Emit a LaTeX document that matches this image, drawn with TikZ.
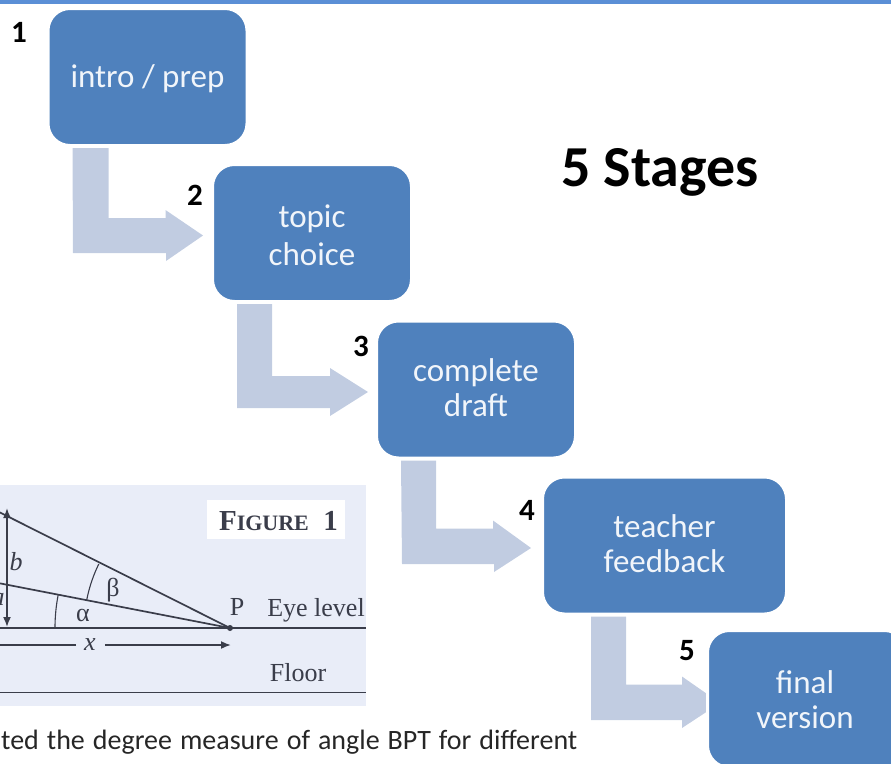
\documentclass[tikz,border=0pt]{standalone}
\usepackage{fontspec}
\setmainfont{Carlito}
\newfontfamily\figfont{Liberation Serif}
\usetikzlibrary{arrows.meta}
\definecolor{stageblue}{HTML}{4F81BD}
\definecolor{stagearrowc}{HTML}{C1CCE1}
\definecolor{topbar}{HTML}{5B8FD6}
\definecolor{panelc}{HTML}{E9EDF8}
\definecolor{figink}{HTML}{3A3D4A}
\tikzset{
	stagebox/.style={rectangle,rounded corners=22pt,fill=stageblue,draw=white,line width=3pt,outer sep=0pt,
		minimum width=199pt,minimum height=137pt,text=white!92!stageblue,align=center,inner sep=0pt,
		font=\fontsize{33}{35}\selectfont},
	stagenum/.style={font=\bfseries\fontsize{31}{31}\selectfont,inner sep=0pt},
	stagearrow/.style={fill=stagearrowc},
	figlabel/.style={text=figink,inner sep=0pt,font=\figfont\fontsize{26}{26}\selectfont},
	figline/.style={draw=figink,line width=1.7pt},
	figarrow/.style={figline,-{Latex[length=10pt,width=8pt]}}
}
\begin{document}
\begin{tikzpicture}[x=1pt,y=-1pt]
	\useasboundingbox (0,0) rectangle (891,763);
	\clip (0,0) rectangle (891,763);
	\fill[topbar] (0,0) rectangle (891,3.5);
	% figure panel
	\fill[panelc] (0,485) rectangle (366,706);
	\coordinate (P) at (230,628);
	\coordinate (top) at (7,508);
	\coordinate (eye) at (7,627);
	\draw[figline] (0,628) -- (366,628);
	\draw[figline] (0,692.5) -- (366,692.5);
	\draw[figline] (P) -- (-7,509);
	\draw[figline] (P) -- (-7,582);
	\draw[figline,{Latex[length=10pt,width=8pt]}-{Latex[length=10pt,width=8pt]}] (eye) -- (top);
	\fill[figink] (P) circle (3);
	\draw[figline,line width=1.1pt] (P) ++(180:175) arc (180:191:175);
	\draw[figline,line width=1.1pt] (P) ++(191:146) arc (191:206:146);
	\node[figlabel] (alpha) at (83,615) {α};
	\node[figlabel] (beta) at (113,590) {β};
	\node[figlabel] (blabel) at (16,562) {\itshape b};
	\node[figlabel] (alabel) at (-2,600) {\itshape a};
	\node[figlabel] (Plabel) at (237,607) {P};
	\node[figlabel] (eyelabel) at (316,610) {Eye level};
	\node[figlabel] (floorlabel) at (298,673) {Floor};
	\node[figlabel] (xlabel) at (90,645) {\itshape x};
	\draw[figline] (xlabel.west) ++(-8,0) -- (-5,645);
	\draw[figarrow] (xlabel.east) ++(9,0) -- (231,645);
	\node[fill=white,minimum width=138pt,minimum height=39pt,inner sep=0pt,text=figink,font=\figfont\bfseries\fontsize{29}{29}\selectfont] (figtitle) at (276,519.5) {\hspace*{5pt}\rule{0pt}{23pt}F{\fontsize{22}{22}\selectfont IGURE}\ \ 1};
	% caption under the figure
	\node[anchor=base west,inner sep=0pt,text=black!85,font=\fontsize{28}{28}\selectfont] (caption) at (1,749) {\spaceskip=8pt ted the degree measure of angle BPT for different};
	% arrows go below the boxes
	\node[stagebox] (intro) at (147.5,77) {\rule{0pt}{27pt}intro / prep};
	\node[stagebox] (topic) at (312,233) {\rule{0pt}{27pt}topic\\[3pt]choice};
	\node[stagebox] (draft) at (476,389.5) {complete\\draft\rule[-4pt]{0pt}{1pt}};
	\node[stagebox,minimum width=244pt] (feedback) at (664.5,545.5) {teacher\\feedback\rule[-4pt]{0pt}{1pt}};
	\fill[stagearrow] ([shift={(24.5,2.5)}]intro.south west) -- ++(36,0) -- ++(0,70) -- ++(57,0) -- ++(0,-8)
		-- ([shift={(-9.5,2.5)}]topic.west) -- ++(-37,25.5) -- ++(0,-8) -- ++(-93,0) -- cycle;
	\fill[stagearrow] ([shift={(24.5,2.5)}]topic.south west) -- ++(35,0) -- ++(0,72) -- ++(58,0) -- ++(0,-8)
		-- ([shift={(-8.5,2.5)}]draft.west) -- ++(-38,24) -- ++(0,-8) -- ++(-93,0) -- cycle;
	\fill[stagearrow] ([shift={(24.5,2.5)}]draft.south west) -- ++(35,0) -- ++(0,68) -- ++(57,0) -- ++(0,-8)
		-- ([shift={(-11.5,2.5)}]feedback.west) -- ++(-37,24) -- ++(0,-8) -- ++(-92,0) -- cycle;
	\fill[stagearrow] ([shift={(48.5,2.5)}]feedback.south west) -- ++(35,0) -- ++(0,68) -- ++(56,0) -- ++(0,-8)
		-- (720,703) -- (682,728) -- ++(0,-8) -- ++(-91,0) -- cycle;
	\node[stagebox] (final) at (807,699) {\rule{0pt}{25pt}final\hspace*{4pt}\\version\hspace*{4pt}};
	\node[stagenum] (one) at (19,32) {1};
	\node[stagenum] (two) at (195,195) {2};
	\node[stagenum] (three) at (361,346) {3};
	\node[stagenum] (four) at (527,510) {4};
	\node[stagenum] (five) at (687,651) {5};
	\node[inner sep=0pt,font=\bfseries\fontsize{58}{58}\selectfont] (title) at (660,172) {5 Stages};
\end{tikzpicture}
\end{document}
